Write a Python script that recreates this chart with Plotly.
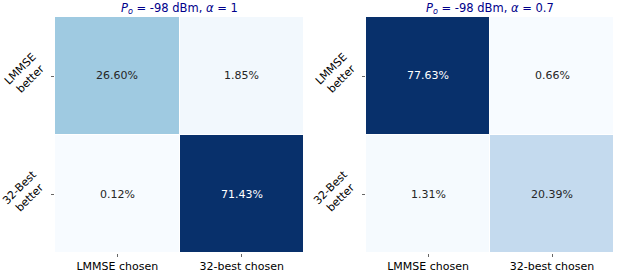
import plotly.graph_objects as go

cols = ["LMMSE chosen", "32-best chosen"]
rows = ["LMMSE<br>better", "32-Best<br>better"]
vals_left = [[26.60, 1.85], [0.12, 71.43]]
vals_right = [[77.63, 0.66], [1.31, 20.39]]
titles = ["<i>P<sub>o</sub></i> = -98 dBm, <i>α</i> = 1",
          "<i>P<sub>o</sub></i> = -98 dBm, <i>α</i> = 0.7"]

blues = ["#f7fbff", "#deebf7", "#c6dbef", "#9ecae1", "#6baed6",
         "#4292c6", "#2171b5", "#08519c", "#08306b"]

fig = go.Figure()
W, H = 619, 275
doms = [(55 / W, 304 / W), (366 / W, 614 / W)]
ydom = (1 - 253 / H, 1 - 17 / H)
FONT = "DejaVu Sans"

for i, vals in enumerate([vals_left, vals_right]):
    xa = "x" if i == 0 else "x2"
    ya = "y" if i == 0 else "y2"
    fig.add_trace(go.Heatmap(z=vals, x=cols, y=rows, colorscale=blues,
                             showscale=False, xgap=1, ygap=1,
                             xaxis=xa, yaxis=ya, hoverinfo="skip"))
    flat = [v for r in vals for v in r]
    lo, hi = min(flat), max(flat)
    for r, rname in enumerate(rows):
        for c, cname in enumerate(cols):
            v = vals[r][c]
            t = (v - lo) / (hi - lo)
            fig.add_annotation(x=cname, y=rname, xref=xa, yref=ya,
                               text=f"{v:.2f}%", showarrow=False,
                               font=dict(size=11, family=FONT,
                                         color="white" if t > 0.6 else "#262626"))
        # rotated y tick labels
        fig.add_annotation(x=doms[i][0], y=rname, xref="paper", yref=ya,
                           xanchor="right", yanchor="middle", xshift=-3, yshift=2,
                           text=rname, textangle=-45, showarrow=False,
                           align="center",
                           font=dict(size=11, family=FONT, color="black"))
    axs = dict(domain=doms[i], showgrid=False, zeroline=False,
               ticks="outside", ticklen=3, tickcolor="#666", automargin=False,
               tickfont=dict(size=11, family=FONT, color="black"),
               showline=False)
    ays = dict(domain=ydom, showgrid=False, zeroline=False,
               ticks="outside", ticklen=3, tickcolor="#666", automargin=False,
               showticklabels=False, autorange="reversed", showline=False)
    if i == 0:
        fig.update_layout(xaxis=axs, yaxis=ays)
    else:
        ays["anchor"] = "x2"
        axs["anchor"] = "y2"
        fig.update_layout(xaxis2=axs, yaxis2=ays)
    fig.add_annotation(x=(doms[i][0] + doms[i][1]) / 2, y=ydom[1],
                       xref="paper", yref="paper", yanchor="bottom",
                       xanchor="center", yshift=-1, showarrow=False,
                       text=titles[i],
                       font=dict(size=11.5, family=FONT, color="#00008b"))

fig.update_layout(width=W, height=H, margin=dict(l=0, r=0, t=0, b=0),
                  paper_bgcolor="white", plot_bgcolor="white",
                  font=dict(family=FONT))
fig.write_html("out.html", config={"displayModeBar": False},
               post_script="document.body.style.margin='0';document.body.style.overflow='hidden';")
